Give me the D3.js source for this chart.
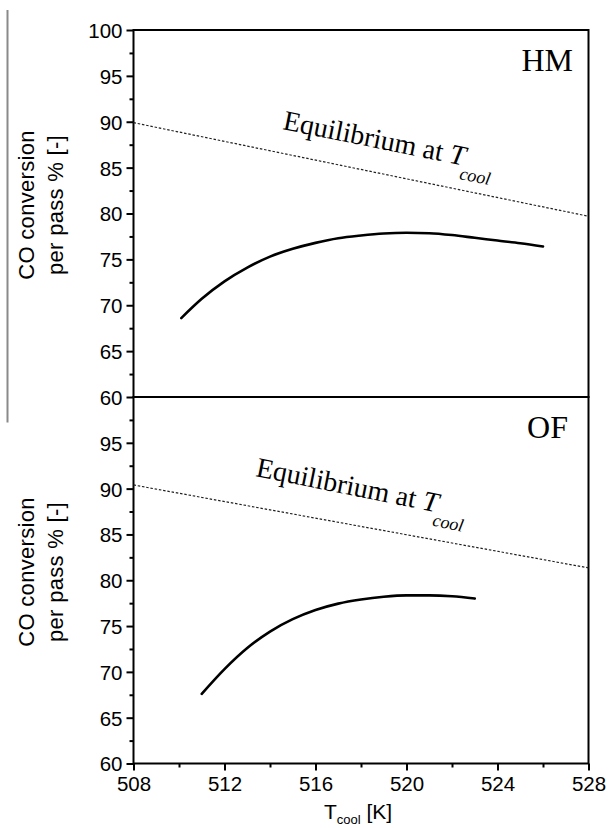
<!DOCTYPE html>
<html>
<head>
<meta charset="utf-8">
<script src="https://cdn.jsdelivr.net/npm/d3@7"></script>
<style>
  html, body { margin: 0; padding: 0; background: #fff; }
  svg { display: block; }
</style>
</head>
<body>
<script>
// CO conversion per pass vs. coolant temperature, two reactor configurations
const panelNames = ["HM", "OF"];

// HM: simulated conversion
const tempHM = [510.1, 511, 512, 513, 514, 515, 516, 517, 518, 519, 520, 521, 522, 523, 524, 525, 526];
const convHM = [68.6, 70.7, 72.6, 74.1, 75.3, 76.15, 76.8, 77.3, 77.6, 77.82, 77.9, 77.85, 77.65, 77.35, 77.05, 76.75, 76.4];

// OF: simulated conversion
const tempOF = [511, 512, 513, 514, 515, 516, 517, 518, 519, 520, 521, 522, 523];
const convOF = [67.6, 70.3, 72.6, 74.4, 75.75, 76.75, 77.45, 77.9, 78.2, 78.35, 78.35, 78.25, 78.0];

// Equilibrium conversion at the coolant temperature
const eqTemp = [508, 528];
const eqHM = [89.9, 79.7];
const eqOF = [90.4, 81.35];

const xMajorTicks = [508, 512, 516, 520, 524, 528];
const xMinorTicks = [510, 514, 518, 522, 526];
const yTicksTop = [60, 65, 70, 75, 80, 85, 90, 95, 100];
const yTicksBottom = [60, 65, 70, 75, 80, 85, 90, 95];
const yMinorTicks = [62.5, 67.5, 72.5, 77.5, 82.5, 87.5, 92.5, 97.5];

const W = 609, H = 828;
const left = 133.5, right = 588.5;
const panelTops = [30, 397];
const panelBottoms = [397, 763.5];

const svg = d3.select("body").append("svg")
  .attr("width", W).attr("height", H);

const sans = "'Liberation Sans', Arial, sans-serif";
const serif = "'Liberation Serif', 'Times New Roman', serif";

// stray rule at the far left
svg.append("line")
  .attr("x1", 7.5).attr("x2", 7.5).attr("y1", 10).attr("y2", 422.5)
  .attr("stroke", "#8a8a8a").attr("stroke-width", 2);

const x = d3.scaleLinear().domain([508, 528]).range([left, right]);

const panels = [
  { name: panelNames[0], temp: tempHM, conv: convHM, eq: eqHM, ticks: yTicksTop,
    labelPos: [573, 70.5], eqPos: [282, 129], eqAngle: 11.4, titleY: 205 },
  { name: panelNames[1], temp: tempOF, conv: convOF, eq: eqOF, ticks: yTicksBottom,
    labelPos: [568, 438.3], eqPos: [255, 476], eqAngle: 11.3, titleY: 572 }
];

panels.forEach((p, i) => {
  const y = d3.scaleLinear().domain([60, 100]).range([panelBottoms[i], panelTops[i]]);
  const g = svg.append("g");

  // frame
  g.append("rect")
    .attr("x", left).attr("y", panelTops[i])
    .attr("width", right - left).attr("height", panelBottoms[i] - panelTops[i])
    .attr("fill", "none").attr("stroke", "#000").attr("stroke-width", 2);

  // y axis with outward ticks
  const yAxis = d3.axisLeft(y).tickValues(p.ticks).tickSize(7).tickPadding(4)
    .tickFormat(d3.format("d"));
  const ya = g.append("g").attr("transform", `translate(${left},0)`).call(yAxis);
  ya.select(".domain").remove();
  ya.selectAll(".tick line").attr("stroke", "#000").attr("stroke-width", 2);
  ya.selectAll(".tick text")
    .attr("font-family", sans).attr("font-size", 20.5).attr("fill", "#000")
    .attr("dy", "0.36em");

  const yMinor = d3.axisLeft(y).tickValues(yMinorTicks).tickSize(4).tickFormat("");
  const ym = g.append("g").attr("transform", `translate(${left},0)`).call(yMinor);
  ym.select(".domain").remove();
  ym.selectAll(".tick line").attr("stroke", "#000").attr("stroke-width", 2);

  // y axis title
  const tt = g.append("text")
    .attr("transform", `translate(0,${p.titleY}) rotate(-90)`)
    .attr("text-anchor", "middle")
    .attr("font-family", sans).attr("font-size", 22).attr("letter-spacing", 0.3)
    .attr("fill", "#000");
  tt.append("tspan").attr("x", 0).attr("y", 33.5).text("CO conversion");
  tt.append("tspan").attr("x", 0).attr("y", 62.5).text("per pass % [-]");

  // equilibrium line
  const eqLine = d3.line().x((d, k) => x(eqTemp[k])).y(d => y(d));
  g.append("path")
    .attr("d", eqLine(p.eq))
    .attr("fill", "none").attr("stroke", "#222").attr("stroke-width", 1.2)
    .attr("stroke-dasharray", "2.5,1.8");

  // conversion curve
  const curve = d3.line()
    .x((d, k) => x(p.temp[k])).y(d => y(d))
    .curve(d3.curveMonotoneX);
  g.append("path")
    .attr("d", curve(p.conv))
    .attr("fill", "none").attr("stroke", "#000").attr("stroke-width", 2.6)
    .attr("stroke-linecap", "round");

  // panel label
  g.append("text")
    .attr("x", p.labelPos[0]).attr("y", p.labelPos[1])
    .attr("text-anchor", "end")
    .attr("font-family", serif).attr("font-size", 32).attr("fill", "#000")
    .text(p.name);

  // equilibrium annotation
  const eqt = g.append("text")
    .attr("transform", `translate(${p.eqPos[0]},${p.eqPos[1]}) rotate(${p.eqAngle})`)
    .attr("font-family", serif).attr("font-size", 28).attr("fill", "#000");
  eqt.append("tspan").text("Equilibrium at ");
  eqt.append("tspan").attr("font-style", "italic").text("T");
  eqt.append("tspan").attr("font-style", "italic").attr("font-size", 18)
    .attr("dx", -2).attr("dy", 14).text("cool");
});

// shared x axis at the bottom
const yb = panelBottoms[1];
const xAxis = d3.axisBottom(x).tickValues(xMajorTicks).tickSize(7).tickPadding(6)
  .tickFormat(d3.format("d"));
const xa = svg.append("g").attr("transform", `translate(0,${yb})`).call(xAxis);
xa.select(".domain").remove();
xa.selectAll(".tick line").attr("stroke", "#000").attr("stroke-width", 2);
xa.selectAll(".tick text")
  .attr("font-family", sans).attr("font-size", 20.5).attr("fill", "#000");

const xMinor = d3.axisBottom(x).tickValues(xMinorTicks).tickSize(4).tickFormat("");
const xm = svg.append("g").attr("transform", `translate(0,${yb})`).call(xMinor);
xm.select(".domain").remove();
xm.selectAll(".tick line").attr("stroke", "#000").attr("stroke-width", 2);

// x axis title
const xt = svg.append("text")
  .attr("x", (left + right) / 2 - 3).attr("y", 819)
  .attr("text-anchor", "middle")
  .attr("font-family", sans).attr("font-size", 21).attr("fill", "#000");
xt.append("tspan").text("T");
xt.append("tspan").attr("font-size", 13).attr("dy", 5).text("cool");
xt.append("tspan").attr("dy", -5).text(" [K]");
</script>
</body>
</html>
